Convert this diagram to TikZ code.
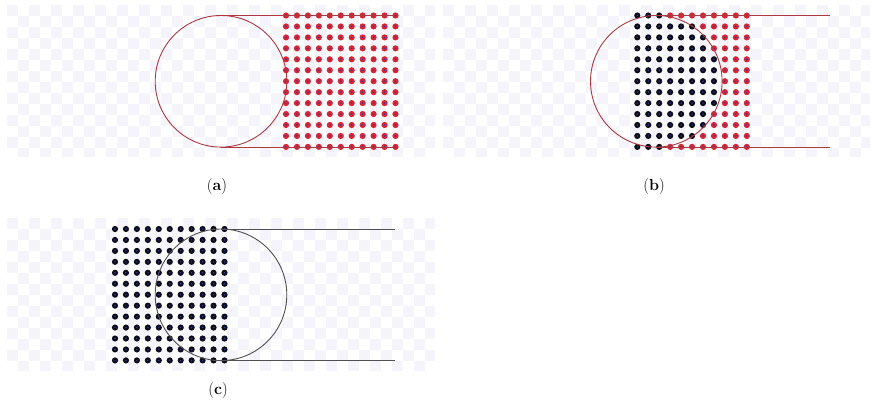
\documentclass[tikz,border=0pt]{standalone}
\usepackage{fontspec}
\usepackage{xcolor}
\usepackage{tikz}
\usetikzlibrary{calc}

\definecolor{chk}{RGB}{244,244,250}
\definecolor{dotred}{RGB}{214,38,54}
\definecolor{dotblack}{RGB}{14,14,26}
\definecolor{dotcore}{RGB}{44,56,170}
\definecolor{toolred}{RGB}{172,56,64}
\definecolor{toolgray}{RGB}{80,80,80}

% checkered backdrop: x0, y0, x1, y1
\newcommand{\checkbg}[4]{%
  \begin{scope}
    \clip (#1,#2) rectangle (#3,#4);
    \foreach \i in {0,22,...,440} {
      \foreach \j in {0,22,...,154} {
        \fill[chk] (#1+\i,#2+\j) rectangle ++(11,11);
        \fill[chk] (#1+\i+11,#2+\j+11) rectangle ++(11,11);
      }
    }
  \end{scope}}

% 11 x 13 grid of points: x0, y0, row/number-of-black-points list
\newcommand{\dotgrid}[3]{%
  \foreach \r/\nb in {#3} {
    \foreach \c in {0,...,10} {
      \ifnum\c<\nb \def\dotcol{dotblack}\else\def\dotcol{dotred}\fi
      \fill[\dotcol] (#1+10.95*\c,#2+10.95*\r) circle (3.1);
      \fill[dotcore] (#1+10.95*\c,#2+10.95*\r) circle (0.8);
    }
  }}

\begin{document}
\begin{tikzpicture}[
        x=1pt, y=-1pt,
        tool/.style={draw=toolred, line width=0.9pt},
        toolc/.style={draw=toolgray, line width=0.9pt},
        caption/.style={anchor=base, font=\fontsize{16}{19}\selectfont}
    ]
    \useasboundingbox (0,0) rectangle (872,406);

    % (a)
    \checkbg{7}{5}{435}{157}
    \dotgrid{286}{15.5}{0/0,1/0,2/0,3/0,4/0,5/0,6/0,7/0,8/0,9/0,10/0,11/0,12/0}
    \coordinate (ca) at (221,81.3);
    \coordinate (ta) at (221,15.5);
    \coordinate (ba) at (221,147.1);
    \coordinate (tea) at (395,15.5);
    \coordinate (bea) at (395,147.1);
    \draw[tool] (ca) circle (65.8);
    \draw[tool] (ta) -- (tea);
    \draw[tool] (ba) -- (bea);
    \node[caption] (laba) at (217,190) {(\textbf{a})};

    % (b)
    \checkbg{443}{5}{870}{157}
    \dotgrid{637.3}{15.5}{0/3,1/6,2/7,3/7,4/8,5/8,6/8,7/8,8/8,9/7,10/7,11/6,12/3}
    \coordinate (cb) at (656.3,81.3);
    \coordinate (tb) at (656.3,15.5);
    \coordinate (bb) at (656.3,147.1);
    \coordinate (teb) at (830,15.5);
    \coordinate (beb) at (830,147.1);
    \draw[tool] (cb) circle (65.8);
    \draw[tool] (tb) -- (teb);
    \draw[tool] (bb) -- (beb);
    \node[caption] (labb) at (654,190) {(\textbf{b})};

    % (c)
    \checkbg{7}{217.7}{435}{370.7}
    \dotgrid{115}{229}{0/11,1/11,2/11,3/11,4/11,5/11,6/11,7/11,8/11,9/11,10/11,11/11,12/11}
    \coordinate (cc) at (221,294.8);
    \coordinate (tc) at (221,229);
    \coordinate (bc) at (221,360.6);
    \coordinate (tec) at (395,229);
    \coordinate (bec) at (395,360.6);
    \draw[toolc] (cc) circle (65.8);
    \draw[toolc] (tc) -- (tec);
    \draw[toolc] (bc) -- (bec);
    \node[caption] (labc) at (218,394) {(\textbf{c})};
\end{tikzpicture}
\end{document}
